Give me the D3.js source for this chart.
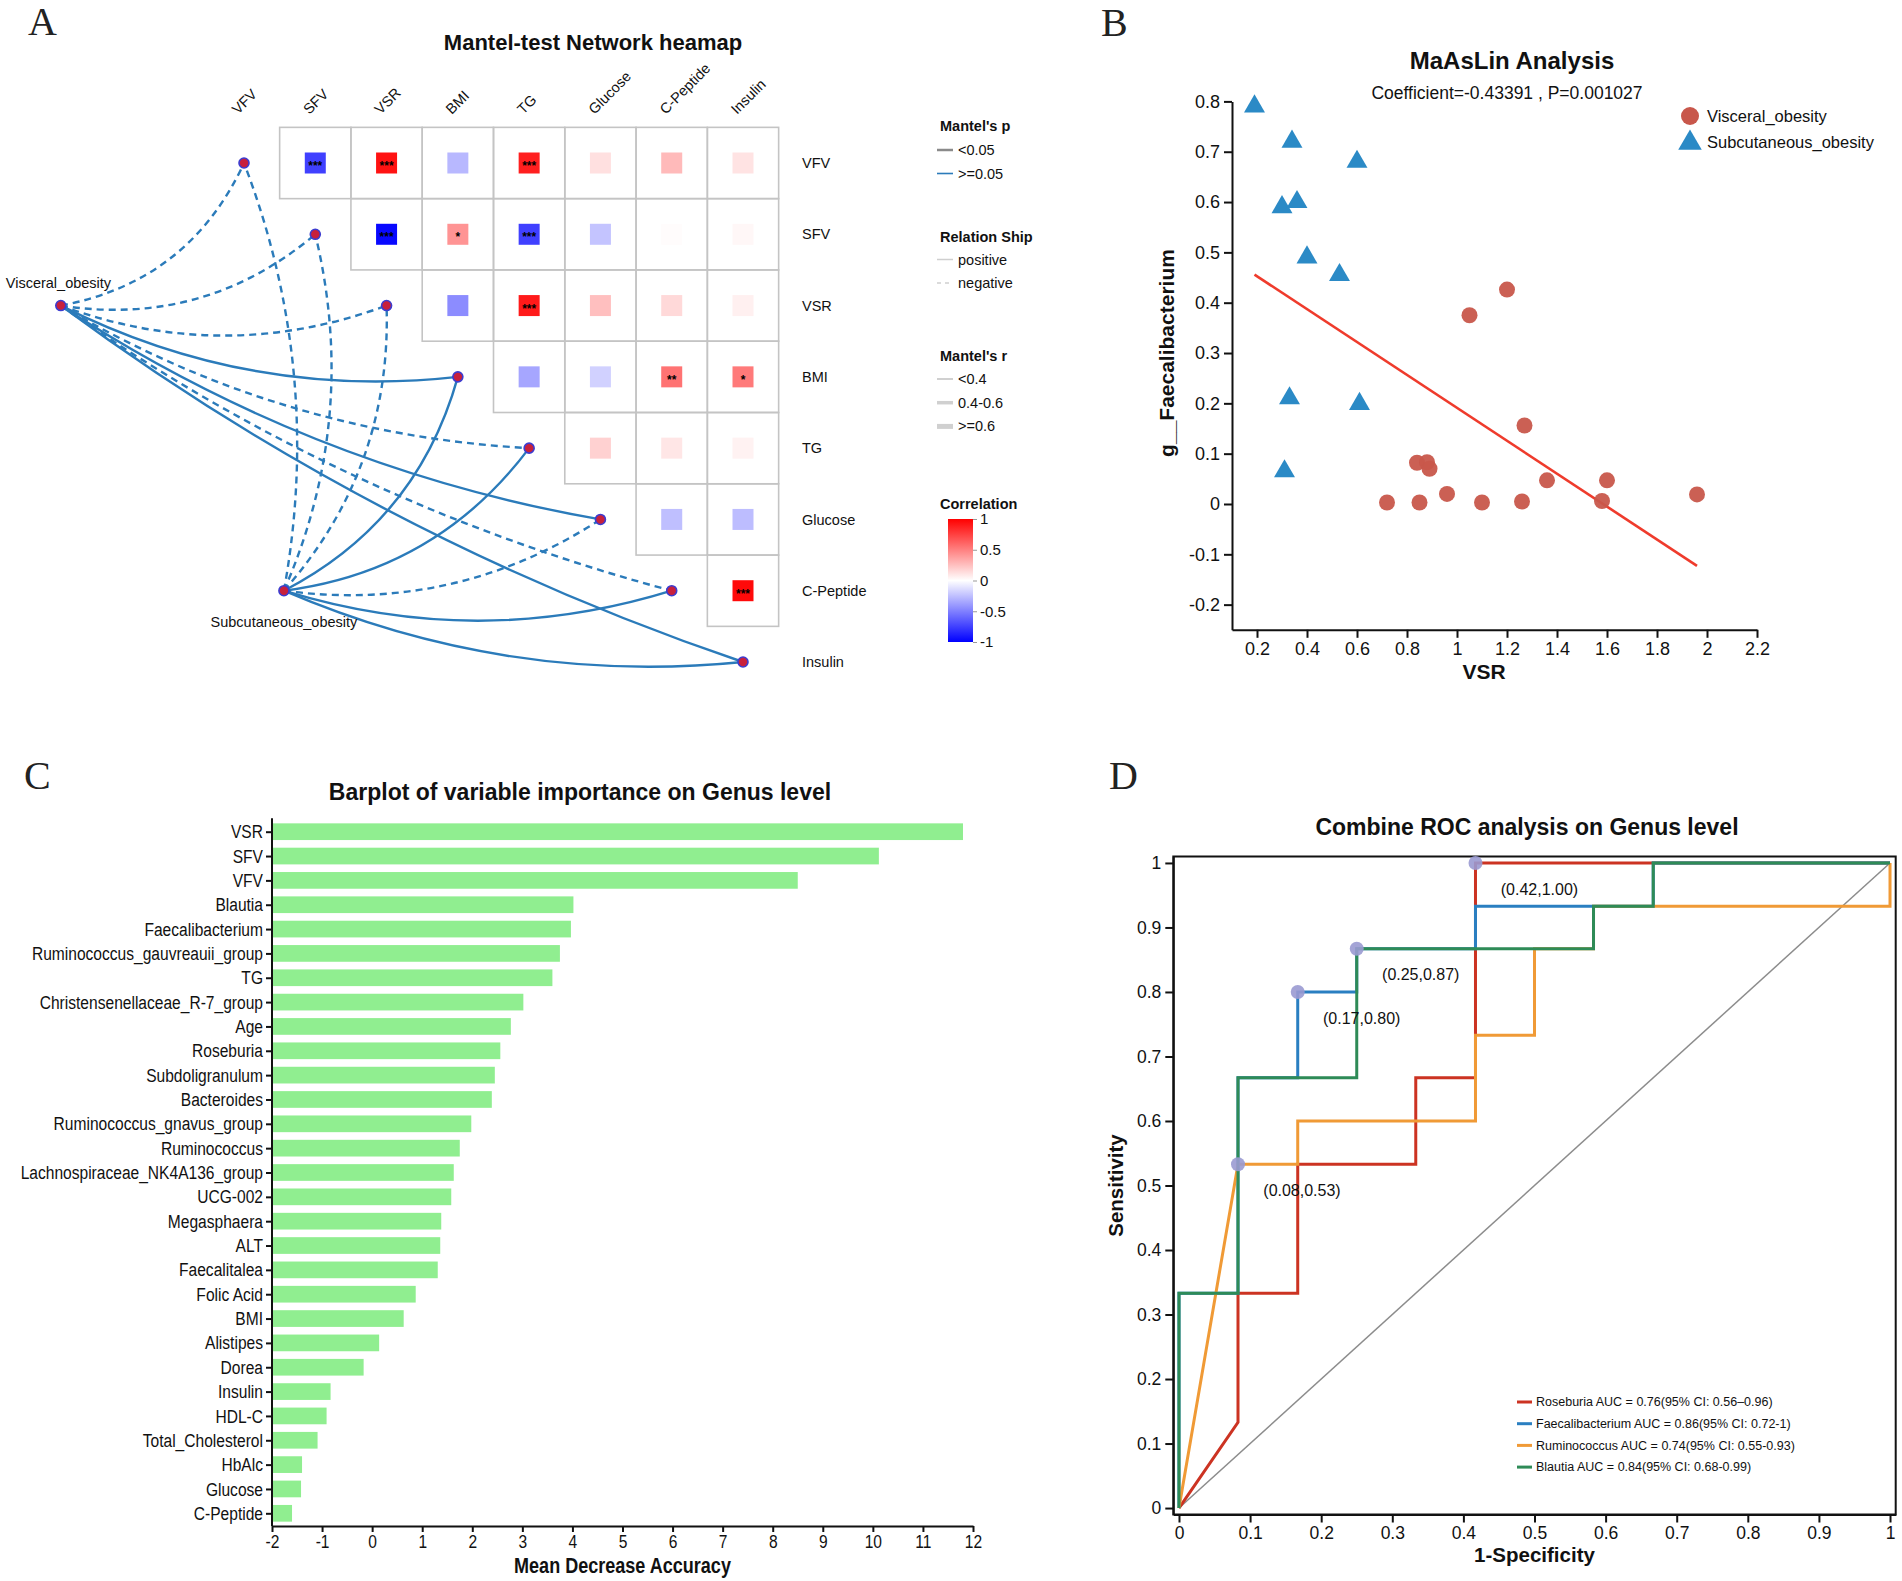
<!DOCTYPE html>
<html>
<head>
<meta charset="utf-8">
<title>Figure</title>
<script src="https://cdn.jsdelivr.net/npm/d3@7"></script>
<style>
  body { margin: 0; background: #fff; }
  svg { display: block; }
</style>
</head>
<body>
<svg id="figure"></svg>
<script>
// ---------- A: Mantel-test network heatmap ----------
const mantelVars = ["VFV", "SFV", "VSR", "BMI", "TG", "Glucose", "C-Peptide", "Insulin"];
// upper triangle, row i holds the pairs (i, i+1) ... (i, 7)
const corrRows = [
  [-0.75, 0.93, -0.28, 0.88, 0.12, 0.27, 0.11],
  [-0.97, 0.42, -0.75, -0.23, 0.01, 0.03],
  [-0.45, 0.90, 0.25, 0.15, 0.06],
  [-0.35, -0.18, 0.55, 0.52],
  [0.18, 0.10, 0.05],
  [-0.25, -0.26],
  [0.96]
];
const corrStars = [
  ["***", "***", "", "***", "", "", ""],
  ["***", "*", "***", "", "", ""],
  ["", "***", "", "", ""],
  ["", "", "**", "*"],
  ["", "", ""],
  ["", ""],
  ["***"]
];
const obesityGroups = ["Visceral_obesity", "Subcutaneous_obesity"];
const visceralLink = ["negative", "negative", "negative", "positive", "negative", "positive", "negative", "positive"];
const subcutLink   = ["negative", "negative", "negative", "positive", "positive", "negative", "positive", "positive"];
const visceralP = [">=0.05", ">=0.05", ">=0.05", ">=0.05", ">=0.05", ">=0.05", ">=0.05", ">=0.05"];
const subcutP   = [">=0.05", ">=0.05", ">=0.05", ">=0.05", ">=0.05", ">=0.05", ">=0.05", ">=0.05"];
const visceralR = ["<0.4", "<0.4", "<0.4", "<0.4", "<0.4", "<0.4", "<0.4", "<0.4"];
const subcutR   = ["<0.4", "<0.4", "<0.4", "<0.4", "<0.4", "<0.4", "<0.4", "<0.4"];
const pClasses = ["<0.05", ">=0.05"];
const rClasses = ["<0.4", "0.4-0.6", ">=0.6"];
const corrTicks = [1, 0.5, 0, -0.5, -1];

// ---------- B: MaAsLin scatter ----------
const visceralVSR  = [1.20, 1.05, 1.27, 0.84, 0.88, 0.89, 0.72, 0.85, 0.96, 1.10, 1.26, 1.36, 1.58, 1.60, 1.96];
const visceralFaec = [0.426, 0.375, 0.156, 0.082, 0.083, 0.070, 0.003, 0.003, 0.020, 0.003, 0.005, 0.047, 0.006, 0.047, 0.019];
const subcutVSR    = [0.19, 0.34, 0.60, 0.30, 0.36, 0.40, 0.53, 0.33, 0.61, 0.31];
const subcutFaec   = [0.79, 0.72, 0.68, 0.59, 0.60, 0.49, 0.455, 0.21, 0.199, 0.065];
const fitIntercept = 0.518;
const fitSlope = -0.327;
const maaslinXTicks = [0.2, 0.4, 0.6, 0.8, 1, 1.2, 1.4, 1.6, 1.8, 2, 2.2];
const maaslinYTicks = [-0.2, -0.1, 0, 0.1, 0.2, 0.3, 0.4, 0.5, 0.6, 0.7, 0.8];

// ---------- C: variable importance ----------
const genusNames = ["VSR", "SFV", "VFV", "Blautia", "Faecalibacterium", "Ruminococcus_gauvreauii_group", "TG",
  "Christensenellaceae_R-7_group", "Age", "Roseburia", "Subdoligranulum", "Bacteroides", "Ruminococcus_gnavus_group",
  "Ruminococcus", "Lachnospiraceae_NK4A136_group", "UCG-002", "Megasphaera", "ALT", "Faecalitalea", "Folic Acid",
  "BMI", "Alistipes", "Dorea", "Insulin", "HDL-C", "Total_Cholesterol", "HbAlc", "Glucose", "C-Peptide"];
const importance = [11.80, 10.12, 8.50, 4.02, 3.97, 3.75, 3.60, 3.02, 2.77, 2.56, 2.45, 2.39, 1.98,
  1.75, 1.63, 1.58, 1.38, 1.36, 1.31, 0.87, 0.63, 0.14, -0.17, -0.83, -0.91, -1.09, -1.40, -1.42, -1.60];
const importanceTicks = [-2, -1, 0, 1, 2, 3, 4, 5, 6, 7, 8, 9, 10, 11, 12];

// ---------- D: ROC curves ----------
const rocNames = ["Roseburia", "Faecalibacterium", "Ruminococcus", "Blautia"];
const rocLabels = ["Roseburia AUC = 0.76(95% CI: 0.56\u20130.96)", "Faecalibacterium AUC = 0.86(95% CI: 0.72-1)",
  "Ruminococcus AUC = 0.74(95% CI: 0.55-0.93)", "Blautia AUC = 0.84(95% CI: 0.68-0.99)"];
const roseburiaFpr = [0, 0.083, 0.083, 0.167, 0.167, 0.333, 0.333, 0.417, 0.417, 1];
const roseburiaTpr = [0, 0.133, 0.333, 0.333, 0.533, 0.533, 0.667, 0.667, 1, 1];
const faecaliFpr = [0, 0, 0.083, 0.083, 0.167, 0.167, 0.25, 0.25, 0.417, 0.417, 0.667, 0.667, 1];
const faecaliTpr = [0, 0.333, 0.333, 0.667, 0.667, 0.8, 0.8, 0.867, 0.867, 0.933, 0.933, 1, 1];
const ruminoFpr = [0, 0.083, 0.167, 0.167, 0.417, 0.417, 0.5, 0.5, 0.583, 0.583, 1, 1];
const ruminoTpr = [0, 0.533, 0.533, 0.6, 0.6, 0.733, 0.733, 0.867, 0.867, 0.933, 0.933, 1];
const blautiaFpr = [0, 0, 0.083, 0.083, 0.25, 0.25, 0.583, 0.583, 0.667, 0.667, 1];
const blautiaTpr = [0, 0.333, 0.333, 0.667, 0.667, 0.867, 0.867, 0.933, 0.933, 1, 1];
const cutFpr = [0.417, 0.25, 0.167, 0.083];
const cutTpr = [1, 0.867, 0.8, 0.533];
const rocTicks = [0, 0.1, 0.2, 0.3, 0.4, 0.5, 0.6, 0.7, 0.8, 0.9, 1];

const SANS = '"Liberation Sans", Arial, Helvetica, sans-serif';
const SERIF = '"Liberation Serif", "Times New Roman", serif';
const INK = "#111";
const NARROW_X = 0.82;   // horizontal squeeze for the condensed labels of panel C

const svg = d3.select("#figure")
  .attr("width", 1902)
  .attr("height", 1581)
  .attr("font-family", SANS);

svg.append("rect").attr("width", 1902).attr("height", 1581).attr("fill", "#fff");

function styleAxis(sel, size) {
  sel.attr("font-family", SANS).attr("font-size", size);
  sel.select(".domain").attr("stroke", INK).attr("stroke-width", 2);
  sel.selectAll(".tick line").attr("stroke", INK).attr("stroke-width", 2);
  sel.selectAll(".tick text").attr("fill", INK);
}

function title(x, y, txt, size) {
  svg.append("text")
    .attr("x", x).attr("y", y).attr("dy", "0.35em")
    .attr("text-anchor", "middle")
    .attr("font-size", size).attr("font-weight", "bold")
    .attr("fill", INK)
    .text(txt);
}

// panel letters
[["A", 28, 35], ["B", 1101, 36], ["C", 24, 789], ["D", 1109, 789]].forEach(p => {
  svg.append("text").attr("x", p[1]).attr("y", p[2])
    .attr("font-family", SERIF).attr("font-size", 40).attr("fill", "#222")
    .text(p[0]);
});

function drawMantel() {
  const g = svg.append("g");
  const n = mantelVars.length;
  const px = d3.scaleLinear().domain([0, n - 1]).range([244, 743]);
  const py = d3.scaleLinear().domain([0, n - 1]).range([163, 662]);
  const cell = px(1) - px(0);
  const color = d3.scaleLinear().domain([-1, 0, 1]).range(["#0000ff", "#ffffff", "#ff0000"]);

  title(593, 42, "Mantel-test Network heamap", 22);

  const cells = [];
  corrRows.forEach((row, i) => row.forEach((r, k) => {
    cells.push({ i: i, j: i + 1 + k, r: r, star: corrStars[i][k] });
  }));

  g.append("g").selectAll("rect").data(cells).join("rect")
    .attr("x", d => px(d.j) - cell / 2)
    .attr("y", d => py(d.i) - cell / 2)
    .attr("width", cell).attr("height", cell)
    .attr("fill", "none").attr("stroke", "#c4c4c4").attr("stroke-width", 1.6);

  const sq = 21;
  g.append("g").selectAll("rect").data(cells).join("rect")
    .attr("x", d => px(d.j) - sq / 2)
    .attr("y", d => py(d.i) - sq / 2)
    .attr("width", sq).attr("height", sq)
    .attr("fill", d => color(d.r));

  g.append("g").selectAll("text").data(cells.filter(d => d.star)).join("text")
    .attr("x", d => px(d.j)).attr("y", d => py(d.i) + 7)
    .attr("text-anchor", "middle")
    .attr("font-size", 12).attr("font-weight", "bold").attr("fill", "#000")
    .text(d => d.star);

  // column labels, rotated
  g.append("g").selectAll("text").data(mantelVars).join("text")
    .attr("transform", (d, j) => `translate(${px(j) - 6},115) rotate(-45)`)
    .attr("font-size", 14.5).attr("fill", INK)
    .text(d => d);

  // row labels
  g.append("g").selectAll("text").data(mantelVars).join("text")
    .attr("x", 802).attr("y", (d, i) => py(i)).attr("dy", "0.35em")
    .attr("font-size", 14.5).attr("fill", INK)
    .text(d => d);

  // network: group nodes sit left of the grid, in index units
  const layout = {
    nodes: [[-2.57, 2], [0.56, 6]],
    labels: [[-55, -18, "start"], [0, 36, "middle"]],
    sag: 30
  };
  const pColor = { "<0.05": "#8a8a8a", ">=0.05": "#2b7bba" };
  const rWidth = { "<0.4": 2.4, "0.4-0.6": 3.6, ">=0.6": 5 };
  const links = [
    { sign: visceralLink, p: visceralP, r: visceralR },
    { sign: subcutLink, p: subcutP, r: subcutR }
  ];

  const edges = [];
  obesityGroups.forEach((name, gi) => {
    mantelVars.forEach((v, j) => {
      edges.push({
        x1: px(layout.nodes[gi][0]), y1: py(layout.nodes[gi][1]),
        x2: px(j), y2: py(j),
        sign: links[gi].sign[j], p: links[gi].p[j], r: links[gi].r[j]
      });
    });
  });

  function curve(d) {
    const dx = d.x2 - d.x1, dy = d.y2 - d.y1, len = Math.hypot(dx, dy);
    const cx = (d.x1 + d.x2) / 2 - dy / len * 2 * layout.sag;
    const cy = (d.y1 + d.y2) / 2 + dx / len * 2 * layout.sag;
    const p = d3.path();
    p.moveTo(d.x1, d.y1);
    p.quadraticCurveTo(cx, cy, d.x2, d.y2);
    return p.toString();
  }

  g.append("g").selectAll("path").data(edges).join("path")
    .attr("d", curve)
    .attr("fill", "none")
    .attr("stroke", d => pColor[d.p])
    .attr("stroke-width", d => rWidth[d.r])
    .attr("stroke-dasharray", d => d.sign === "negative" ? "7,5" : null);

  const nodePts = mantelVars.map((v, j) => [px(j), py(j)])
    .concat(layout.nodes.map(nd => [px(nd[0]), py(nd[1])]));
  g.append("g").selectAll("circle").data(nodePts).join("circle")
    .attr("cx", d => d[0]).attr("cy", d => d[1]).attr("r", 5)
    .attr("fill", "#c8203c").attr("stroke", "#3c3cd0").attr("stroke-width", 1.6);

  g.append("g").selectAll("text").data(obesityGroups).join("text")
    .attr("x", (d, gi) => px(layout.nodes[gi][0]) + layout.labels[gi][0])
    .attr("y", (d, gi) => py(layout.nodes[gi][1]) + layout.labels[gi][1])
    .attr("text-anchor", (d, gi) => layout.labels[gi][2])
    .attr("font-size", 14.5).attr("fill", INK)
    .text(d => d);

  // legends
  const lg = svg.append("g").attr("font-size", 14.5).attr("fill", INK);
  const lx = 940, lineX = [937, 953], textX = 958;
  function head(y, txt) {
    lg.append("text").attr("x", lx).attr("y", y).attr("dy", "0.35em")
      .attr("font-weight", "bold").text(txt);
  }
  function item(y, txt, stroke, width, dash) {
    lg.append("line").attr("x1", lineX[0]).attr("x2", lineX[1]).attr("y1", y).attr("y2", y)
      .attr("stroke", stroke).attr("stroke-width", width).attr("stroke-dasharray", dash || null);
    lg.append("text").attr("x", textX).attr("y", y).attr("dy", "0.35em").text(txt);
  }
  head(126, "Mantel's p");
  pClasses.forEach((c, k) => item(150 + k * 23.5, c, pColor[c], c === "<0.05" ? 2.5 : 1.6));
  head(236.5, "Relation Ship");
  item(259.5, "positive", "#cfcfcf", 1.5);
  item(283, "negative", "#cfcfcf", 1.5, "4,4");
  head(355.5, "Mantel's r");
  const rLegendW = [2, 3.5, 5];
  rClasses.forEach((c, k) => item(379 + k * 23.7, c, "#d0d0d0", rLegendW[k]));
  head(504, "Correlation");

  const grad = svg.append("defs").append("linearGradient")
    .attr("id", "corrGrad").attr("x1", 0).attr("x2", 0).attr("y1", 0).attr("y2", 1);
  grad.selectAll("stop").data([1, 0.5, 0, -0.5, -1]).join("stop")
    .attr("offset", (d, k) => k / 4).attr("stop-color", d => color(d));
  const cb = d3.scaleLinear().domain([-1, 1]).range([642, 519]);
  lg.append("rect").attr("x", 948).attr("y", cb(1)).attr("width", 25).attr("height", cb(-1) - cb(1))
    .attr("fill", "url(#corrGrad)");
  const cbAxis = lg.append("g").attr("transform", "translate(973,0)")
    .call(d3.axisRight(cb).tickValues(corrTicks).tickSize(4).tickPadding(3).tickFormat(d => String(d)));
  cbAxis.select(".domain").remove();
  cbAxis.attr("font-family", SANS).attr("font-size", 15);
  cbAxis.selectAll(".tick line").attr("stroke", "#999");
  cbAxis.selectAll(".tick text").attr("fill", INK);
}

function drawMaaslin() {
  const g = svg.append("g");
  const x = d3.scaleLinear().domain([0.1, 2.2]).range([1232, 1757]);
  const y = d3.scaleLinear().domain([-0.25, 0.8]).range([629.8, 101.4]);

  title(1512, 61, "MaAsLin Analysis", 24);
  svg.append("text").attr("x", 1507).attr("y", 92.5).attr("dy", "0.35em")
    .attr("text-anchor", "middle").attr("font-size", 17.5).attr("fill", INK)
    .text("Coefficient=-0.43391 , P=0.001027");

  const xa = g.append("g").attr("transform", `translate(0,${y(-0.25)})`)
    .call(d3.axisBottom(x).tickValues(maaslinXTicks).tickSize(8).tickPadding(4).tickSizeOuter(0).tickFormat(d => String(d)));
  styleAxis(xa, 18);
  const ya = g.append("g").attr("transform", `translate(${x(0.1)},0)`)
    .call(d3.axisLeft(y).tickValues(maaslinYTicks).tickSize(8).tickPadding(4).tickSizeOuter(0).tickFormat(d => String(d)));
  styleAxis(ya, 18);

  g.append("text").attr("transform", `translate(1167,353) rotate(-90)`)
    .attr("dy", "0.35em").attr("text-anchor", "middle")
    .attr("font-size", 21).attr("font-weight", "bold").attr("fill", INK)
    .text("g__Faecalibacterium");
  g.append("text").attr("x", 1484).attr("y", 672).attr("dy", "0.35em")
    .attr("text-anchor", "middle").attr("font-size", 21).attr("font-weight", "bold").attr("fill", INK)
    .text("VSR");

  const red = "#c8574b", blue = "#2b8ac6";
  const tri = d3.symbol().type(d3.symbolTriangle).size(190);

  // regression line over the observed VSR range
  const ext = d3.extent(visceralVSR.concat(subcutVSR));
  g.append("line")
    .attr("x1", x(ext[0])).attr("y1", y(fitIntercept + fitSlope * ext[0]))
    .attr("x2", x(ext[1])).attr("y2", y(fitIntercept + fitSlope * ext[1]))
    .attr("stroke", "#ef3b2c").attr("stroke-width", 2.6);

  g.append("g").selectAll("circle").data(visceralVSR).join("circle")
    .attr("cx", d => x(d)).attr("cy", (d, i) => y(visceralFaec[i])).attr("r", 8)
    .attr("fill", red).attr("fill-opacity", 0.95);
  g.append("g").selectAll("path").data(subcutVSR).join("path")
    .attr("d", tri)
    .attr("transform", (d, i) => `translate(${x(d)},${y(subcutFaec[i])})`)
    .attr("fill", blue);

  // legend
  const lg = g.append("g").attr("font-size", 16.5).attr("fill", INK);
  lg.append("circle").attr("cx", 1690).attr("cy", 116).attr("r", 9).attr("fill", red);
  lg.append("path").attr("d", d3.symbol().type(d3.symbolTriangle).size(240))
    .attr("transform", "translate(1690,143)").attr("fill", blue);
  lg.append("text").attr("x", 1707).attr("y", 116).attr("dy", "0.35em").text(obesityGroups[0]);
  lg.append("text").attr("x", 1707).attr("y", 142.5).attr("dy", "0.35em").text(obesityGroups[1]);
}

function drawImportance() {
  const g = svg.append("g");
  const x = d3.scaleLinear().domain([-2, 12]).range([272, 973]);
  const y = d3.scalePoint().domain(genusNames).range([831.7, 1513.3]);
  const barH = 16.7;
  const axisY = 1526;

  title(580, 792, "Barplot of variable importance on Genus level", 23);

  g.append("g").selectAll("rect").data(genusNames).join("rect")
    .attr("x", x(-2))
    .attr("y", d => y(d) - barH / 2)
    .attr("width", (d, i) => x(importance[i]) - x(-2))
    .attr("height", barH)
    .attr("fill", "#90ee90");

  const ya = g.append("g").attr("transform", `translate(${x(-2)},0)`)
    .call(d3.axisLeft(y).tickSize(6).tickPadding(5));
  styleAxis(ya, 19);
  ya.selectAll(".tick text").attr("transform", `scale(${NARROW_X},1)`);
  ya.select(".domain").remove();
  g.append("line")
    .attr("x1", x(-2)).attr("x2", x(-2))
    .attr("y1", y.range()[0] - y.step() * 0.55).attr("y2", axisY)
    .attr("stroke", INK).attr("stroke-width", 2);

  const xa = g.append("g").attr("transform", `translate(0,${axisY})`)
    .call(d3.axisBottom(x).tickValues(importanceTicks).tickSize(6).tickPadding(3).tickSizeOuter(0).tickFormat(d => String(d)));
  styleAxis(xa, 19);
  xa.selectAll(".tick text").attr("transform", `scale(${NARROW_X},1)`);

  g.append("text").attr("transform", `translate(${x(5)},1565) scale(${NARROW_X},1)`)
    .attr("dy", "0.35em").attr("text-anchor", "middle")
    .attr("font-size", 22).attr("font-weight", "bold").attr("fill", INK)
    .text("Mean Decrease Accuracy");
}

function drawRoc() {
  const g = svg.append("g");
  const x = d3.scaleLinear().domain([-0.008, 1.008]).range([1173.3, 1895.7]);
  const y = d3.scaleLinear().domain([-0.01, 1.01]).range([1514.5, 856.5]);

  title(1527, 827, "Combine ROC analysis on Genus level", 23);

  g.append("rect")
    .attr("x", x(-0.008)).attr("y", y(1.01))
    .attr("width", x(1.008) - x(-0.008)).attr("height", y(-0.01) - y(1.01))
    .attr("fill", "none").attr("stroke", INK).attr("stroke-width", 2);

  const xa = g.append("g").attr("transform", `translate(0,${y(-0.01)})`)
    .call(d3.axisBottom(x).tickValues(rocTicks).tickSize(8).tickPadding(4).tickSizeOuter(0).tickFormat(d => String(d)));
  styleAxis(xa, 17.5);
  const ya = g.append("g").attr("transform", `translate(${x(-0.008)},0)`)
    .call(d3.axisLeft(y).tickValues(rocTicks).tickSize(8).tickPadding(4).tickSizeOuter(0).tickFormat(d => String(d)));
  styleAxis(ya, 17.5);

  g.append("text").attr("transform", `translate(1116,${y(0.5)}) rotate(-90)`)
    .attr("dy", "0.35em").attr("text-anchor", "middle")
    .attr("font-size", 20.5).attr("font-weight", "bold").attr("fill", INK)
    .text("Sensitivity");
  g.append("text").attr("x", x(0.5)).attr("y", 1555).attr("dy", "0.35em")
    .attr("text-anchor", "middle").attr("font-size", 20.5).attr("font-weight", "bold").attr("fill", INK)
    .text("1-Specificity");

  // chance line
  g.append("line")
    .attr("x1", x(0)).attr("y1", y(0)).attr("x2", x(1)).attr("y2", y(1))
    .attr("stroke", "#8c8c8c").attr("stroke-width", 1.5);

  const curves = [
    [roseburiaFpr, roseburiaTpr],
    [faecaliFpr, faecaliTpr],
    [ruminoFpr, ruminoTpr],
    [blautiaFpr, blautiaTpr]
  ].map(c => c[0].map((f, i) => [f, c[1][i]]));
  const colors = ["#cc3322", "#2a7fc1", "#f09a36", "#2e8b57"];
  const line = d3.line().x(d => x(d[0])).y(d => y(d[1]));

  g.append("g").selectAll("path").data(curves).join("path")
    .attr("d", line)
    .attr("fill", "none")
    .attr("stroke", (d, k) => colors[k])
    .attr("stroke-width", 3)
    .attr("stroke-linejoin", "miter");

  // best cut-off points
  const f2 = d3.format(".2f");
  g.append("g").selectAll("circle").data(cutFpr).join("circle")
    .attr("cx", d => x(d)).attr("cy", (d, i) => y(cutTpr[i])).attr("r", 7)
    .attr("fill", "#9a9ad2").attr("fill-opacity", 0.9);
  g.append("g").selectAll("text").data(cutFpr).join("text")
    .attr("x", d => x(d) + 64).attr("y", (d, i) => y(cutTpr[i]) + 26).attr("dy", "0.35em")
    .attr("text-anchor", "middle").attr("font-size", 16).attr("fill", INK)
    .text((d, i) => `(${f2(d)},${f2(cutTpr[i])})`);

  // legend
  const lg = g.append("g").attr("font-size", 12.5).attr("fill", INK);
  rocNames.forEach((nm, k) => {
    const ly = 1402 + k * 21.7;
    lg.append("line").attr("x1", 1517).attr("x2", 1532).attr("y1", ly).attr("y2", ly)
      .attr("stroke", colors[k]).attr("stroke-width", 3);
    lg.append("text").attr("x", 1536).attr("y", ly).attr("dy", "0.35em").text(rocLabels[k]);
  });
}

drawMantel();
drawMaaslin();
drawImportance();
drawRoc();
</script>
</body>
</html>
